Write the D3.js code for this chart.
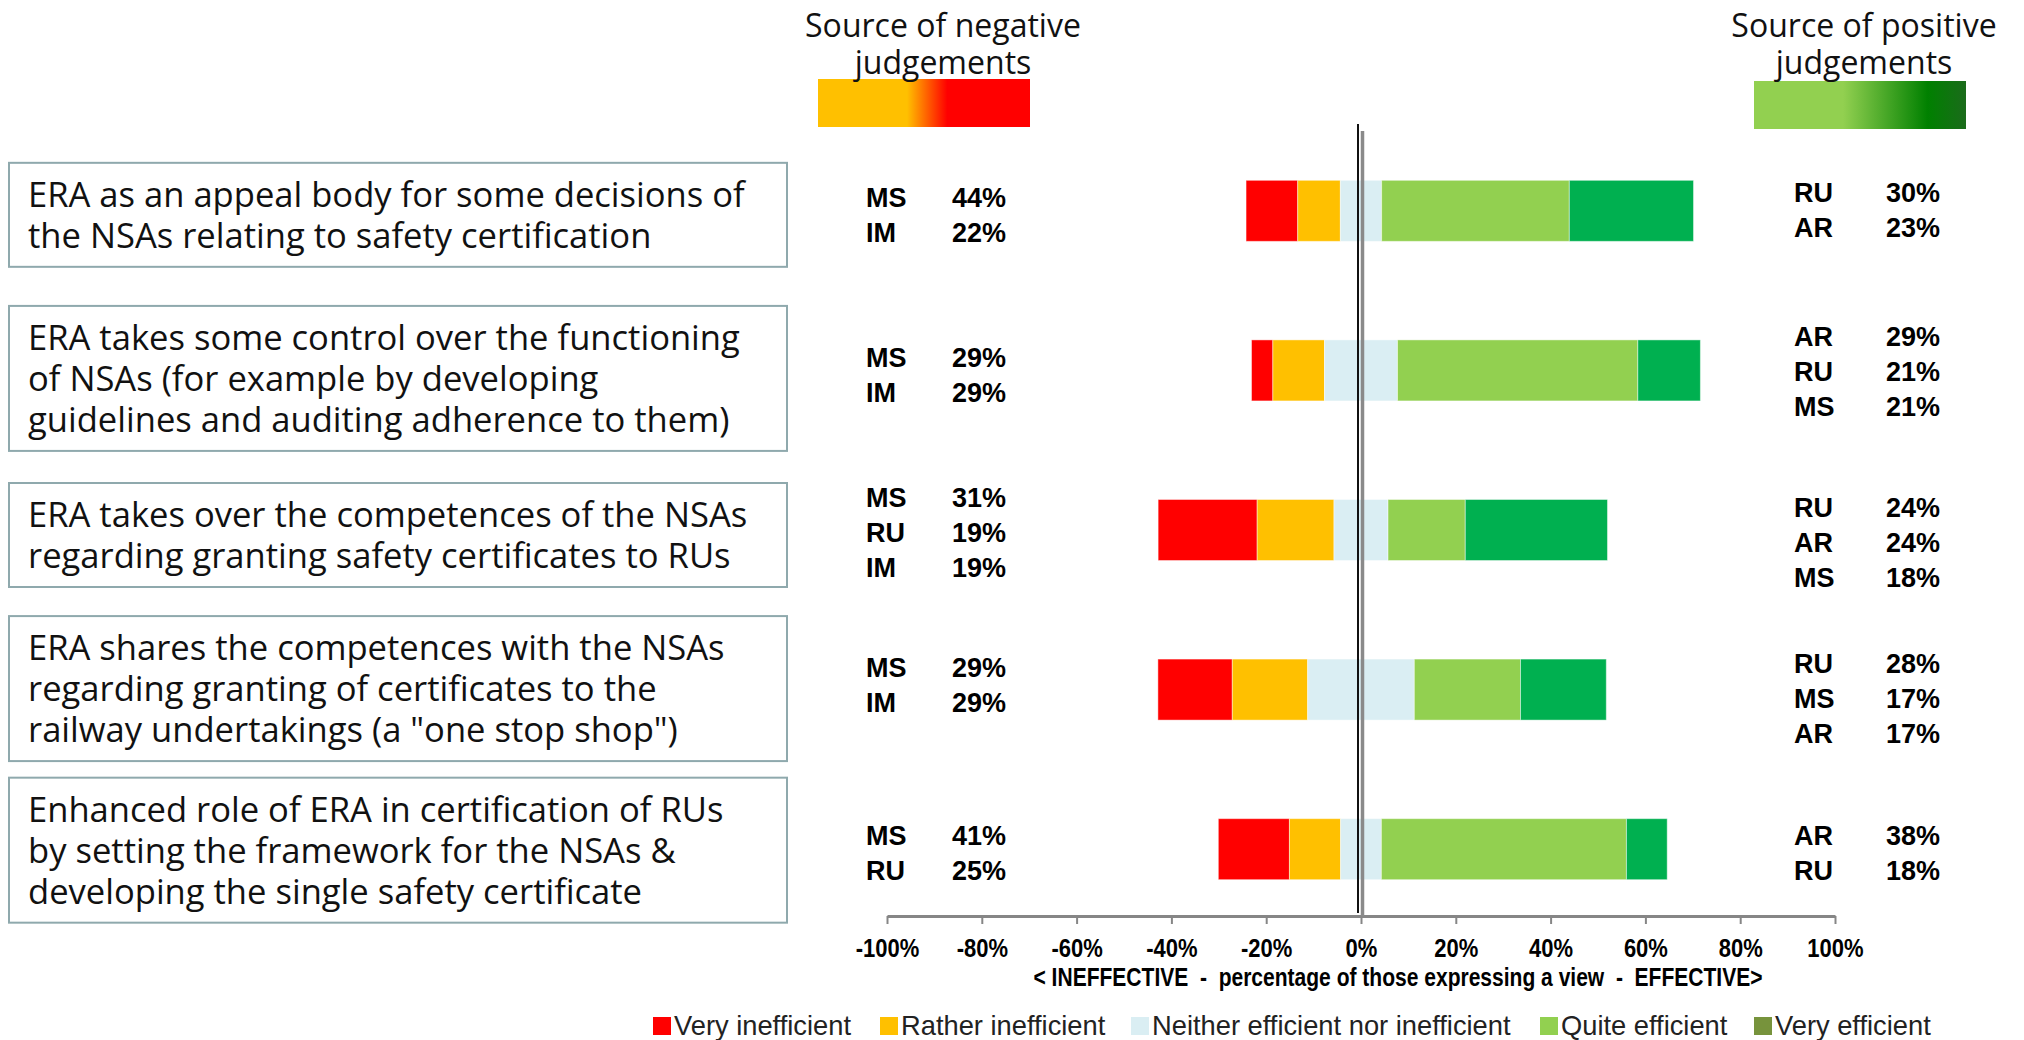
<!DOCTYPE html>
<html>
<head>
<meta charset="utf-8">
<script src="https://cdn.jsdelivr.net/npm/d3@7"></script>
<style>
  body { margin: 0; background: #fff; }
  svg { display: block; }
</style>
</head>
<body>
<div id="chart"></div>
<script>
// Options (one box each), read top to bottom
const options = [
    ["ERA as an appeal body for some decisions of", "the NSAs relating to safety certification"],
    ["ERA takes some control over the functioning", "of NSAs (for example by developing", "guidelines and auditing adherence to them)"],
    ["ERA takes over the competences of the NSAs", "regarding granting safety certificates to RUs"],
    ["ERA shares the competences with the NSAs", "regarding granting of certificates to the", "railway undertakings (a \"one stop shop\")"],
    ["Enhanced role of ERA in certification of RUs", "by setting the framework for the NSAs &", "developing the single safety certificate"]
];

const seriesNames = ["Very inefficient", "Rather inefficient", "Neither efficient nor inefficient", "Quite efficient", "Very efficient"];

// Percent of those expressing a view
const veryIneff   = [10.9,  4.5, 20.9, 15.7, 15.0];
const ratherIneff = [ 9.0, 10.9, 16.2, 15.9, 10.8];
const neither     = [ 8.7, 15.4, 11.4, 22.5,  8.6];
const quiteEff    = [39.6, 50.7, 16.3, 22.4, 51.7];
const veryEff     = [26.2, 13.2, 30.0, 18.1,  8.6];

// Stakeholder groups behind the judgements
const negSources = [
    [["MS", "44%"], ["IM", "22%"]],
    [["MS", "29%"], ["IM", "29%"]],
    [["MS", "31%"], ["RU", "19%"], ["IM", "19%"]],
    [["MS", "29%"], ["IM", "29%"]],
    [["MS", "41%"], ["RU", "25%"]]
];
const posSources = [
    [["RU", "30%"], ["AR", "23%"]],
    [["AR", "29%"], ["RU", "21%"], ["MS", "21%"]],
    [["RU", "24%"], ["AR", "24%"], ["MS", "18%"]],
    [["RU", "28%"], ["MS", "17%"], ["AR", "17%"]],
    [["AR", "38%"], ["RU", "18%"]]
];

const tickValues = [-100, -80, -60, -40, -20, 0, 20, 40, 60, 80, 100];

const width = 2024, height = 1040;
const boxFont = "'Open Sans', Lato, sans-serif";
const boldFont = "'Liberation Sans', Arial, sans-serif";

const svg = d3.select("#chart")
    .append("svg")
    .attr("width", width)
    .attr("height", height);

// squeeze a text selection horizontally so it looks like a condensed face
function condense(sel, f) {
    sel.each(function() {
        const len = this.getComputedTextLength();
        d3.select(this).attr("textLength", len * f).attr("lengthAdjust", "spacingAndGlyphs");
    });
}

// font size that makes a text span a given width
function fitSize(txt, family, target) {
    const probe = svg.append("text")
        .style("font-family", family)
        .style("font-size", "32px")
        .text(txt);
    const s = 32 * target / probe.node().getComputedTextLength();
    probe.remove();
    return s;
}

// Scales
const x = d3.scaleLinear()
    .domain([-100, 100])
    .range([887, 1835]);

const y = d3.scaleBand()
    .domain(d3.range(options.length))
    .range([131, 929])
    .paddingInner(0.6176)
    .paddingOuter(0.309);

const color = d3.scaleOrdinal()
    .domain(seriesNames)
    .range(["#ff0000", "#ffc000", "#daeef3", "#92d050", "#00b050"]);

// Build stacked segments, neutral split around zero
const rows = options.map((o, i) => {
    const vals = [veryIneff[i], ratherIneff[i], neither[i], quiteEff[i], veryEff[i]];
    let start = -(vals[0] + vals[1] + vals[2] / 2);
    return vals.map((v, k) => {
        const seg = { row: i, name: seriesNames[k], x0: start, x1: start + v };
        start += v;
        return seg;
    });
});

// Bars
svg.append("g")
    .selectAll("g")
    .data(rows)
    .enter()
    .append("g")
    .selectAll("rect")
    .data(d => d)
    .enter()
    .append("rect")
    .attr("x", d => x(d.x0))
    .attr("y", d => y(d.row))
    .attr("width", d => x(d.x1) - x(d.x0))
    .attr("height", y.bandwidth())
    .attr("fill", d => color(d.name))
    .attr("stroke", "#fff")
    .attr("stroke-opacity", 0.45)
    .attr("stroke-width", 1);

// Axis
const axis = svg.append("g")
    .attr("transform", "translate(0,916)")
    .call(d3.axisBottom(x)
        .tickValues(tickValues)
        .tickFormat(d => d + "%")
        .tickSize(8)
        .tickSizeOuter(0)
        .tickPadding(15));

axis.select(".domain").attr("stroke", "#868686").attr("stroke-width", 3);
axis.selectAll(".tick line").attr("stroke", "#868686").attr("stroke-width", 2);
axis.selectAll(".tick text")
    .attr("fill", "#000")
    .style("font-family", boldFont)
    .style("font-weight", "bold")
    .style("font-size", "25px")
    .call(condense, 0.88);

svg.append("text")
    .attr("x", 1398)
    .attr("y", 986)
    .attr("text-anchor", "middle")
    .style("font-family", boldFont)
    .style("font-weight", "bold")
    .style("font-size", "25px")
    .attr("xml:space", "preserve")
    .attr("textLength", 729)
    .attr("lengthAdjust", "spacingAndGlyphs")
    .text("< INEFFECTIVE  -  percentage of those expressing a view  -  EFFECTIVE>");

// Zero lines (drawn over the bars)
svg.append("line")
    .attr("x1", x(0) + 1.5).attr("x2", x(0) + 1.5)
    .attr("y1", 131).attr("y2", 916)
    .attr("stroke", "#8a8a8a")
    .attr("stroke-width", 3.5);

svg.append("line")
    .attr("x1", x(0) - 3).attr("x2", x(0) - 3)
    .attr("y1", 124).attr("y2", 913)
    .attr("stroke", "#111")
    .attr("stroke-width", 2);

// Option boxes on the left
const boxSize = fitSize(options[0][0], boxFont, 717);
const lineH = 41;
const boxShift = [0, 4, 1, -5, -3];
options.forEach((lines, i) => {
    const cy = y(i) + y.bandwidth() / 2 + 4 + boxShift[i];
    const h = lines.length * lineH + 22;
    svg.append("rect")
        .attr("x", 9)
        .attr("y", cy - h / 2)
        .attr("width", 778)
        .attr("height", h)
        .attr("fill", "#fff")
        .attr("stroke", "#8fa9ad")
        .attr("stroke-width", 2);

    lines.forEach((t, j) => {
        svg.append("text")
            .attr("x", 28)
            .attr("y", cy + (j - (lines.length - 1) / 2) * lineH)
            .attr("dy", "0.36em")
            .style("font-family", boxFont)
            .style("font-size", boxSize + "px")
            .attr("fill", "#111")
            .text(t);
    });
});

// Source annotations
function drawSources(list, i, codeX, pctX, shift) {
    const cy = y(i) + y.bandwidth() / 2 + 4 + shift;
    list.forEach((s, j) => {
        const ty = cy + (j - (list.length - 1) / 2) * 35;
        svg.append("text")
            .attr("x", codeX)
            .attr("y", ty)
            .attr("dy", "0.36em")
            .style("font-family", boldFont)
            .style("font-weight", "bold")
            .style("font-size", "27px")
            .text(s[0]);
        svg.append("text")
            .attr("x", pctX)
            .attr("y", ty)
            .attr("dy", "0.36em")
            .attr("text-anchor", "end")
            .style("font-family", boldFont)
            .style("font-weight", "bold")
            .style("font-size", "27px")
            .text(s[1]);
    });
}
const negShift = [0, 0, -2, -9, 0];
const posShift = [-5, -3, 8, 5, 0];
negSources.forEach((list, i) => drawSources(list, i, 866, 1006, negShift[i]));
posSources.forEach((list, i) => drawSources(list, i, 1794, 1940, posShift[i]));

// Header gradients
const defs = svg.append("defs");
const negGrad = defs.append("linearGradient").attr("id", "negGrad");
[[0, "#ffc000"], [0.42, "#ffc000"], [0.61, "#ff0000"], [1, "#ff0000"]].forEach(s => {
    negGrad.append("stop").attr("offset", s[0]).attr("stop-color", s[1]);
});
const posGrad = defs.append("linearGradient").attr("id", "posGrad");
[[0, "#92d050"], [0.42, "#92d050"], [0.82, "#008000"], [1, "#1b6b1b"]].forEach(s => {
    posGrad.append("stop").attr("offset", s[0]).attr("stop-color", s[1]);
});

svg.append("rect").attr("x", 818).attr("y", 79).attr("width", 212).attr("height", 48)
    .attr("fill", "url(#negGrad)");
svg.append("rect").attr("x", 1754).attr("y", 81).attr("width", 212).attr("height", 48)
    .attr("fill", "url(#posGrad)");

const headSize = fitSize("Source of negative", boxFont, 276);
const headers = [
    { cx: 943, lines: ["Source of negative", "judgements"] },
    { cx: 1864, lines: ["Source of positive", "judgements"] }
];
headers.forEach(h => {
    h.lines.forEach((t, j) => {
        svg.append("text")
            .attr("x", h.cx)
            .attr("y", 25 + j * 37)
            .attr("dy", "0.36em")
            .attr("text-anchor", "middle")
            .style("font-family", boxFont)
            .style("font-size", headSize + "px")
            .attr("fill", "#111")
            .text(t);
    });
});

// Legend
const legendColors = ["#ff0000", "#ffc000", "#daeef3", "#92d050", "#77933c"];
const legendX = [653, 880, 1131, 1540, 1754];
const legend = svg.append("g");
const legendTexts = [];
seriesNames.forEach((name, i) => {
    legend.append("rect")
        .attr("x", legendX[i])
        .attr("y", 1017)
        .attr("width", 18)
        .attr("height", 18)
        .attr("fill", legendColors[i]);
    legendTexts.push(legend.append("text")
        .attr("x", legendX[i] + 21)
        .attr("y", 1035)
        .style("font-family", boldFont)
        .style("font-size", "28px")
        .attr("fill", "#222")
        .text(name));
});
const legendF = 177 / legendTexts[0].node().getComputedTextLength();
legendTexts.forEach(t => t.call(condense, legendF));
</script>
</body>
</html>
